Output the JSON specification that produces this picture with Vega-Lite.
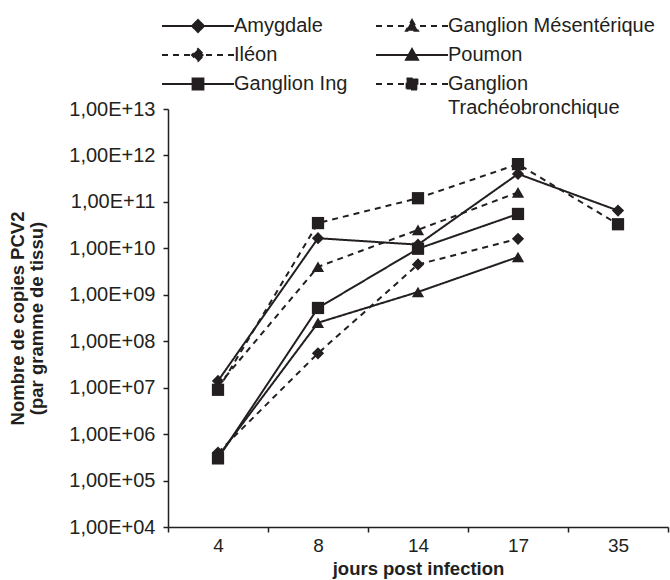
{
  "$schema": "https://vega.github.io/schema/vega-lite/v6.json",
  "width": 500,
  "height": 418,
  "autosize": {"type": "none"},
  "padding": {"left": 168, "top": 109, "right": 2, "bottom": 53},
  "background": "white",
  "data": {
    "values": [
      {"tissue": "Amygdale", "day": 4, "copies": 1.4e7},
      {"tissue": "Amygdale", "day": 8, "copies": 1.65e10},
      {"tissue": "Amygdale", "day": 14, "copies": 1.2e10},
      {"tissue": "Amygdale", "day": 17, "copies": 4e11},
      {"tissue": "Amygdale", "day": 35, "copies": 6.5e10},
      {"tissue": "Iléon", "day": 4, "copies": 4e5},
      {"tissue": "Iléon", "day": 8, "copies": 5.5e7},
      {"tissue": "Iléon", "day": 14, "copies": 4.5e9},
      {"tissue": "Iléon", "day": 17, "copies": 1.6e10},
      {"tissue": "Ganglion Ing", "day": 4, "copies": 3e5},
      {"tissue": "Ganglion Ing", "day": 8, "copies": 5.2e8},
      {"tissue": "Ganglion Ing", "day": 14, "copies": 9.8e9},
      {"tissue": "Ganglion Ing", "day": 17, "copies": 5.5e10},
      {"tissue": "Ganglion Mésentérique", "day": 4, "copies": 1.1e7},
      {"tissue": "Ganglion Mésentérique", "day": 8, "copies": 4e9},
      {"tissue": "Ganglion Mésentérique", "day": 14, "copies": 2.5e10},
      {"tissue": "Ganglion Mésentérique", "day": 17, "copies": 1.6e11},
      {"tissue": "Poumon", "day": 4, "copies": 3.3e5},
      {"tissue": "Poumon", "day": 8, "copies": 2.5e8},
      {"tissue": "Poumon", "day": 14, "copies": 1.15e9},
      {"tissue": "Poumon", "day": 17, "copies": 6.5e9},
      {"tissue": "Ganglion Trachéobronchique", "day": 4, "copies": 9e6},
      {"tissue": "Ganglion Trachéobronchique", "day": 8, "copies": 3.5e10},
      {"tissue": "Ganglion Trachéobronchique", "day": 14, "copies": 1.2e11},
      {"tissue": "Ganglion Trachéobronchique", "day": 17, "copies": 6.5e11},
      {"tissue": "Ganglion Trachéobronchique", "day": 35, "copies": 3.3e10}
    ]
  },
  "encoding": {
    "x": {
      "field": "day",
      "type": "ordinal",
      "scale": {"paddingInner": 0, "paddingOuter": 0},
      "axis": {
        "title": "jours post infection",
        "labelAngle": 0,
        "tickBand": "extent",
        "tickSize": 5,
        "labelPadding": 4,
        "labelFontSize": 19,
        "titleFontSize": 18.5,
        "titlePadding": 4
      }
    },
    "y": {
      "field": "copies",
      "type": "quantitative",
      "scale": {"type": "log", "domain": [10000, 10000000000000], "nice": false},
      "axis": {
        "title": ["Nombre de copies PCV2", "(par gramme de tissu)"],
        "values": [10000, 100000, 1000000, 10000000, 100000000, 1000000000, 10000000000, 100000000000, 1000000000000, 10000000000000],
        "labelExpr": "'1,00E+' + (round(log(datum.value)/LN10) < 10 ? '0' : '') + round(log(datum.value)/LN10)",
        "tickSize": 5,
        "labelPadding": 8,
        "labelFontSize": 20,
        "titleFontSize": 18.5,
        "titlePadding": 22,
        "titleLineHeight": 19
      }
    }
  },
  "layer": [
    {
      "mark": {"type": "line", "strokeWidth": 2, "color": "#231f20"},
      "encoding": {
        "strokeDash": {
          "field": "tissue",
          "type": "nominal",
          "scale": {
            "domain": ["Amygdale", "Iléon", "Ganglion Ing", "Ganglion Mésentérique", "Poumon", "Ganglion Trachéobronchique"],
            "range": [[1, 0], [6, 5], [1, 0], [6, 5], [1, 0], [6, 5]]
          },
          "legend": {
            "orient": "none",
            "legendX": -10,
            "legendY": -93,
            "direction": "vertical",
            "columns": 2,
            "title": null,
            "symbolSize": 144,
            "symbolOffset": 30,
            "labelOffset": 26,
            "columnPadding": 24,
            "rowPadding": 9,
            "labelFontSize": 20,
            "labelLimit": 400,
            "labelExpr": "datum.label == 'Ganglion Trachéobronchique' ? ['Ganglion', 'Trachéobronchique'] : datum.label",
            "encoding": {
              "symbols": {
                "shape": {"value": {"expr": "(datum.value == 'Amygdale' || datum.value == 'Iléon') ? 'M-6,0L6,0M0,-1L1,0L0,1L-1,0Z' : ((datum.value == 'Poumon' || datum.value == 'Ganglion Mésentérique') ? 'M-6,0L6,0M0,-1L1,0.8L-1,0.8Z' : 'M-6,0L6,0M-0.9,-0.9L0.9,-0.9L0.9,0.9L-0.9,0.9Z')"}},
                "fill": {"value": "#231f20"},
                "stroke": {"value": "#231f20"},
                "strokeWidth": {"value": 2},
                "opacity": {"value": 1}
              },
              "labels": {
                "lineHeight": {"value": 24}
              }
            }
          }
        }
      }
    },
    {
      "mark": {"type": "point", "filled": true, "size": 150, "opacity": 1, "color": "#231f20"},
      "encoding": {
        "shape": {
          "field": "tissue",
          "type": "nominal",
          "scale": {
            "domain": ["Ganglion Trachéobronchique", "Poumon", "Ganglion Mésentérique", "Ganglion Ing", "Iléon", "Amygdale"],
            "range": ["square", "triangle-up", "triangle-up", "square", "diamond", "diamond"]
          },
          "legend": null
        }
      }
    }
  ],
  "config": {
    "view": {"stroke": null},
    "font": "Liberation Sans",
    "axis": {
      "grid": false,
      "domainColor": "#231f20",
      "domainWidth": 1.5,
      "tickColor": "#231f20",
      "tickWidth": 1.5,
      "labelColor": "#231f20",
      "titleColor": "#231f20",
      "labelFont": "Liberation Sans",
      "titleFont": "Liberation Sans",
      "titleFontWeight": "bold"
    },
    "legend": {
      "labelFont": "Liberation Sans",
      "labelColor": "#231f20"
    }
  }
}
